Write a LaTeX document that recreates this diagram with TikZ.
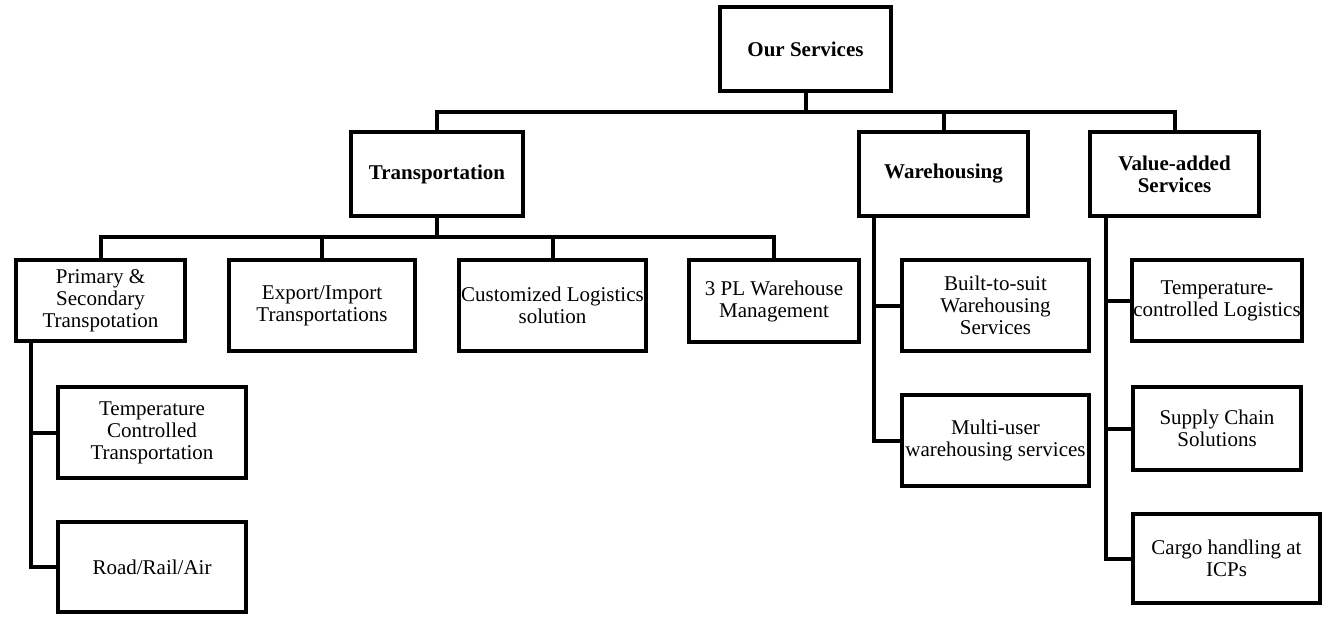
\documentclass[tikz,border=0pt]{standalone}
\usepackage{fontspec}
\setmainfont{Liberation Serif}

\tikzset{
  box/.style={draw, line width=2pt, align=center, inner sep=0.5pt,
    font=\fontsize{10.5}{11}\selectfont},
  head/.style={box, font=\fontsize{10.5}{11}\selectfont\bfseries},
  link/.style={line width=2pt},
}

\begin{document}
\begin{tikzpicture}[x=0.5pt, y=-0.5pt]
  \useasboundingbox (0,0) rectangle (1332,617);

  % top and second level
  \node[head, minimum width=85.5pt, minimum height=42pt] (srv) at (805.5,49) {Our Services};
  \node[head, minimum width=86pt, minimum height=42pt] (trans) at (437,174) {Transportation};
  \node[head, minimum width=84.5pt, minimum height=42pt] (ware) at (943.5,174) {Warehousing};
  \node[head, minimum width=84.5pt, minimum height=42pt] (vas) at (1174.5,174) {Value-added\\Services};

  % transportation
  \node[box, minimum width=84.5pt, minimum height=40.5pt] (prim) at (100.5,300.5) {Primary \&\\Secondary\\Transpotation};
  \node[box, minimum width=93pt, minimum height=45.5pt] (expo) at (322,305.5) {Export/Import\\Transportations};
  \node[box, minimum width=93.5pt, minimum height=45.5pt] (cust) at (552.5,305.5) {Customized Logistics\\solution};
  \node[box, minimum width=85pt, minimum height=41pt] (tpl) at (774,301) {3 PL Warehouse\\Management};
  \node[box, minimum width=94pt, minimum height=45.5pt] (tct) at (152,432.5) {Temperature\\Controlled\\Transportation};
  \node[box, minimum width=94pt, minimum height=45pt] (rra) at (152,567) {Road/Rail/Air};

  % warehousing
  \node[box, minimum width=93.5pt, minimum height=45.5pt] (bts) at (995.5,305.5) {Built-to-suit\\Warehousing\\Services};
  \node[box, minimum width=93.5pt, minimum height=45.5pt] (multi) at (995.5,440.5) {Multi-user\\warehousing services};

  % value-added
  \node[box, minimum width=84pt, minimum height=40.5pt] (tcl) at (1217,300.5) {Temperature-\\controlled Logistics};
  \node[box, minimum width=84pt, minimum height=41.5pt] (scs) at (1217,428.5) {Supply Chain\\Solutions};
  \node[box, minimum width=93.5pt, minimum height=44.5pt] (cargo) at (1226.5,558.5) {Cargo handling at\\ICPs};

  % connectors
  \draw[link] (srv.south) -- ++(0,19) coordinate (srvbus);
  \foreach \n in {trans,ware,vas}
    \draw[link] (srvbus) -| (\n.north);

  \draw[link] (trans.south) -- ++(0,19) coordinate (transbus);
  \foreach \n in {prim,expo,cust,tpl}
    \draw[link] (transbus) -| (\n.north);

  \coordinate (primbus) at ([xshift=8.5pt]prim.south west);
  \foreach \n in {tct,rra}
    \draw[link] (primbus) |- (\n.west);

  \coordinate (warebus) at ([xshift=8.5pt]ware.south west);
  \foreach \n in {bts,multi}
    \draw[link] (warebus) |- (\n.west);

  \coordinate (vasbus) at ([xshift=9pt]vas.south west);
  \foreach \n in {tcl,scs,cargo}
    \draw[link] (vasbus) |- (\n.west);
\end{tikzpicture}
\end{document}
